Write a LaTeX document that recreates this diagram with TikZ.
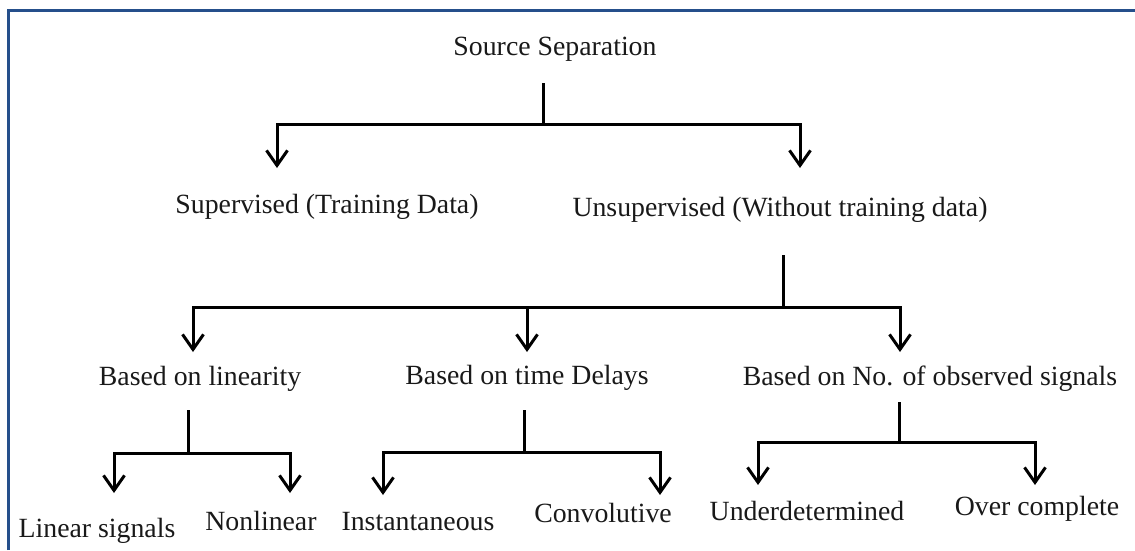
\documentclass[tikz,border=0pt]{standalone}
\usepackage{fontspec}
\setmainfont{Liberation Serif}
\usetikzlibrary{arrows.meta}
\definecolor{frameblue}{RGB}{37,79,139}
\tikzset{
  lbl/.style={anchor=base, inner sep=0pt, text=black!90, font=\fontsize{27.8}{33}\selectfont},
  conn/.style={line width=3pt, black},
  tip/.style={Straight Barb[length=15pt,width=21pt,line width=3pt]},
  arr/.style={conn, -{Straight Barb[length=15pt,width=21pt,line width=3pt]}},
  darr/.style={conn, {Straight Barb[length=15pt,width=21pt,line width=3pt]}-{Straight Barb[length=15pt,width=21pt,line width=3pt]}}
}
\begin{document}
\begin{tikzpicture}[x=1pt,y=-1pt]
\useasboundingbox (0,0) rectangle (1135,550);
% frame
\draw[frameblue, line width=3.5pt] (8.5,550) -- (8.5,10.5) -- (1135,10.5);
% nodes
\node[lbl] (ss)   at (555,55)  {Source Separation};
\node[lbl] (sup)  at (327,213) {Supervised (Training Data)};
\node[lbl] (uns)  at (780,216) {Unsupervised (Without training data)};
\node[lbl] (lin)  at (200,385) {Based on linearity};
\node[lbl] (td)   at (527,384) {Based on time Delays};
\node[lbl] (no)   at (930,385) {Based on No. of observed signals};
\node[lbl] (ls)   at (97,537)  {Linear signals};
\node[lbl] (nl)   at (261,530) {Nonlinear};
\node[lbl] (ins)  at (418,530) {Instantaneous};
\node[lbl] (conv) at (603,522) {Convolutive};
\node[lbl] (ud)   at (807,520) {Underdetermined};
\node[lbl] (oc)   at (1037,515) {Over complete};
% level 0 -> 1
\coordinate (s0)  at (543,83);
\coordinate (j0)  at (543,124);
\coordinate (t1)  at (277,168);
\coordinate (t2)  at (800,168);
\draw[conn] (s0) -- (j0);
\draw[darr] (t1) |- (j0) -| (t2);
% unsupervised -> level 2
\coordinate (s1)  at (783,255);
\coordinate (j1)  at (783,307);
\coordinate (t3)  at (193,352);
\coordinate (t4)  at (527,352);
\coordinate (t5)  at (900,352);
\draw[conn] (s1) -- (j1);
\draw[darr] (t3) |- (j1) -| (t5);
\draw[arr] (t4 |- j1) -- (t4);
% linearity
\coordinate (s2)  at (188,410);
\coordinate (j2)  at (188,453);
\coordinate (t6)  at (114,493);
\coordinate (t7)  at (290,493);
\draw[conn] (s2) -- (j2);
\draw[darr] (t6) |- (j2) -| (t7);
% time delays
\coordinate (s3)  at (524,410);
\coordinate (j3)  at (524,452);
\coordinate (t8)  at (383,495);
\coordinate (t9)  at (660,495);
\draw[conn] (s3) -- (j3);
\draw[darr] (t8) |- (j3) -| (t9);
% observed signals
\coordinate (s4)  at (899,402);
\coordinate (j4)  at (899,442);
\coordinate (t10) at (758,485);
\coordinate (t11) at (1035,485);
\draw[conn] (s4) -- (j4);
\draw[darr] (t10) |- (j4) -| (t11);
\end{tikzpicture}
\end{document}
